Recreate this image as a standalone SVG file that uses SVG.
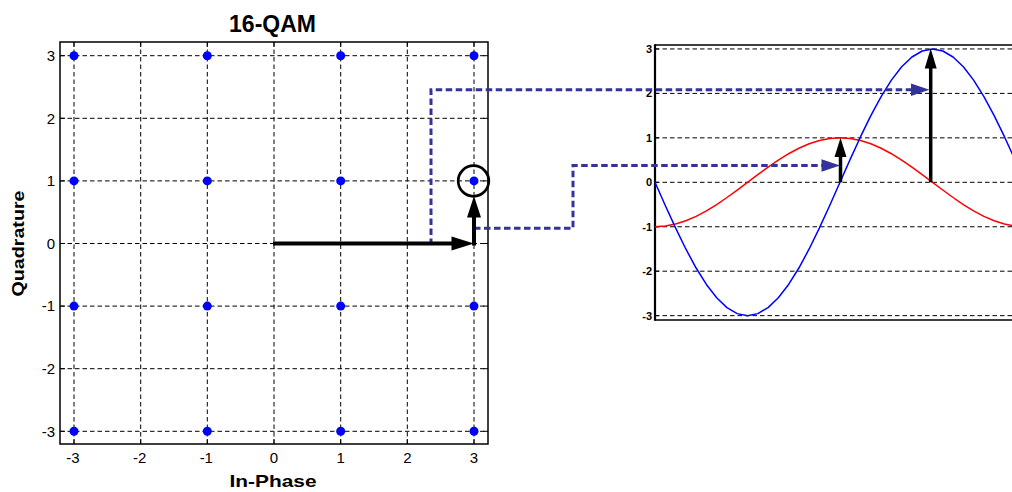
<svg xmlns="http://www.w3.org/2000/svg" width="1012" height="492" viewBox="0 0 1012 492">
<style>
text{font-family:"Liberation Sans",Arial,sans-serif;fill:#000}
.tl{font-size:15px}
.tr{font-size:11px;font-weight:bold}
.ttl{font-weight:bold}
.grid{stroke:#000;stroke-width:1;stroke-dasharray:4.5 3;fill:none}
.tick{stroke:#000;stroke-width:1}
.frame{fill:none;stroke:#000;stroke-width:1.5}
.dot{fill:#0000ff}
.blk{stroke:#000;stroke-width:4;fill:none}
.blkthin{stroke:#000;stroke-width:3.5;fill:none}
.head{fill:#000}
.conn{stroke:#333399;stroke-width:3;stroke-dasharray:6.5 3.5;fill:none}
.bhead{fill:#333399}
</style>
<rect width="1012" height="492" fill="#fff"/>

<g id="constellation-plot">
  <text class="ttl" x="272.5" y="31.5" font-size="23" text-anchor="middle">16-QAM</text>
  <g id="left-grid">
    <path class="grid" d="M74,42V444M140.7,42V444M207.3,42V444M274,42V444M340.7,42V444M407.3,42V444M474,42V444"/>
    <path class="grid" d="M60,55.7H488M60,118.3H488M60,180.9H488M60,243.5H488M60,306.1H488M60,368.7H488M60,431.3H488"/>
    <path class="tick" d="M74,444v-5M140.7,444v-5M207.3,444v-5M274,444v-5M340.7,444v-5M407.3,444v-5M474,444v-5M74,42v5M140.7,42v5M207.3,42v5M274,42v5M340.7,42v5M407.3,42v5M474,42v5M60,55.7h5M60,118.3h5M60,180.9h5M60,243.5h5M60,306.1h5M60,368.7h5M60,431.3h5M488,55.7h-5M488,118.3h-5M488,180.9h-5M488,243.5h-5M488,306.1h-5M488,368.7h-5M488,431.3h-5"/>
    <rect class="frame" x="60" y="42" width="428" height="402"/>
  </g>
  <g id="left-labels" class="tl">
    <text x="55" y="61" text-anchor="end">3</text>
    <text x="55" y="123.6" text-anchor="end">2</text>
    <text x="55" y="186.2" text-anchor="end">1</text>
    <text x="55" y="248.8" text-anchor="end">0</text>
    <text x="55" y="311.4" text-anchor="end">-1</text>
    <text x="55" y="374" text-anchor="end">-2</text>
    <text x="55" y="436.6" text-anchor="end">-3</text>
    <text x="73" y="463" text-anchor="middle">-3</text>
    <text x="139.7" y="463" text-anchor="middle">-2</text>
    <text x="206.3" y="463" text-anchor="middle">-1</text>
    <text x="274" y="463" text-anchor="middle">0</text>
    <text x="340.7" y="463" text-anchor="middle">1</text>
    <text x="407.3" y="463" text-anchor="middle">2</text>
    <text x="474" y="463" text-anchor="middle">3</text>
  </g>
  <text class="ttl" x="273" y="486.5" font-size="17" text-anchor="middle" textLength="87" lengthAdjust="spacingAndGlyphs">In-Phase</text>
  <text class="ttl" transform="translate(24,243.5) rotate(-90)" font-size="17" text-anchor="middle" textLength="106" lengthAdjust="spacingAndGlyphs">Quadrature</text>
  <g id="points">
    <circle class="dot" cx="74" cy="55.7" r="4.5"/><circle class="dot" cx="207.3" cy="55.7" r="4.5"/><circle class="dot" cx="340.7" cy="55.7" r="4.5"/><circle class="dot" cx="474" cy="55.7" r="4.5"/>
    <circle class="dot" cx="74" cy="180.9" r="4.5"/><circle class="dot" cx="207.3" cy="180.9" r="4.5"/><circle class="dot" cx="340.7" cy="180.9" r="4.5"/><circle class="dot" cx="474" cy="180.9" r="4.5"/>
    <circle class="dot" cx="74" cy="306.1" r="4.5"/><circle class="dot" cx="207.3" cy="306.1" r="4.5"/><circle class="dot" cx="340.7" cy="306.1" r="4.5"/><circle class="dot" cx="474" cy="306.1" r="4.5"/>
    <circle class="dot" cx="74" cy="431.3" r="4.5"/><circle class="dot" cx="207.3" cy="431.3" r="4.5"/><circle class="dot" cx="340.7" cy="431.3" r="4.5"/><circle class="dot" cx="474" cy="431.3" r="4.5"/>
  </g>
  <circle id="selected-point" cx="473.5" cy="181" r="15.3" fill="none" stroke="#000" stroke-width="2.7"/>
</g>

<g id="waveform-plot">
  <path class="grid" d="M655,48.95H1012M655,93.4H1012M655,137.85H1012M655,182.3H1012M655,226.75H1012M655,271.2H1012M655,315.65H1012"/>
  <path class="tick" d="M655,48.95h4M655,93.4h4M655,137.85h4M655,182.3h4M655,226.75h4M655,271.2h4M655,315.65h4"/>
  <path d="M655,45H1012M655,320H1012" stroke="#000" stroke-width="1.5" fill="none"/>
  <path d="M655,44.3V320.7" stroke="#000" stroke-width="2.2" fill="none"/>
  <g class="tr">
    <text x="652" y="53" text-anchor="end">3</text>
    <text x="652" y="97.4" text-anchor="end">2</text>
    <text x="652" y="141.9" text-anchor="end">1</text>
    <text x="652" y="186.3" text-anchor="end">0</text>
    <text x="652" y="230.8" text-anchor="end">-1</text>
    <text x="652" y="275.2" text-anchor="end">-2</text>
    <text x="652" y="319.7" text-anchor="end">-3</text>
  </g>
  <polyline id="cos-wave" fill="none" stroke="#ff0000" stroke-width="1.5" stroke-linejoin="round" points="655,226.75 665.28,226.08 675.56,224.07 685.83,220.8 696.11,216.35 706.39,210.87 716.67,204.53 726.94,197.5 737.22,190.02 747.5,182.3 757.78,174.58 768.06,167.1 778.33,160.08 788.61,153.73 798.89,148.25 809.17,143.81 819.44,140.53 829.72,138.53 840,137.85 850.28,138.53 860.56,140.53 870.83,143.81 881.11,148.25 891.39,153.73 901.67,160.08 911.94,167.1 922.22,174.58 932.5,182.3 942.78,190.02 953.06,197.5 963.33,204.53 973.61,210.87 983.89,216.35 994.17,220.8 1004.44,224.07 1014.72,226.08"/>
  <polyline id="sin-wave" fill="none" stroke="#0000ff" stroke-width="1.5" stroke-linejoin="round" points="655,182.3 665.28,205.46 675.56,227.91 685.83,248.98 696.11,268.02 706.39,284.45 716.67,297.79 726.94,307.61 737.22,313.62 747.5,315.65 757.78,313.62 768.06,307.61 778.33,297.79 788.61,284.45 798.89,268.02 809.17,248.98 819.44,227.91 829.72,205.46 840,182.3 850.28,159.14 860.56,136.69 870.83,115.63 881.11,96.58 891.39,80.15 901.67,66.82 911.94,56.99 922.22,50.98 932.5,48.95 942.78,50.98 953.06,56.99 963.33,66.82 973.61,80.15 983.89,96.58 994.17,115.63 1004.44,136.69 1014.72,159.14"/>
</g>

<g id="connectors">
  <path class="conn" d="M431,245V89.7H912"/>
  <polygon class="bhead" points="911,83.4 929.5,89.7 911,96"/>
  <path class="conn" d="M474,228.3H573V165.5H823"/>
  <polygon class="bhead" points="821.5,159.3 840,165.5 821.5,171.7"/>
  <path class="blk" d="M273,243.5H455"/>
  <polygon class="head" points="451.5,236.5 474,243.5 451.5,250.5"/>
  <path class="blk" d="M474,245.5V214"/>
  <polygon class="head" points="467,217.5 474,196 481,217.5"/>
  <path class="blkthin" d="M840.5,182.3V154"/>
  <polygon class="head" points="834.5,157 840.5,137.8 846.5,157"/>
  <path class="blkthin" d="M930.7,182.3V65"/>
  <polygon class="head" points="924.7,68.5 930.7,48.5 936.7,68.5"/>
</g>
</svg>
